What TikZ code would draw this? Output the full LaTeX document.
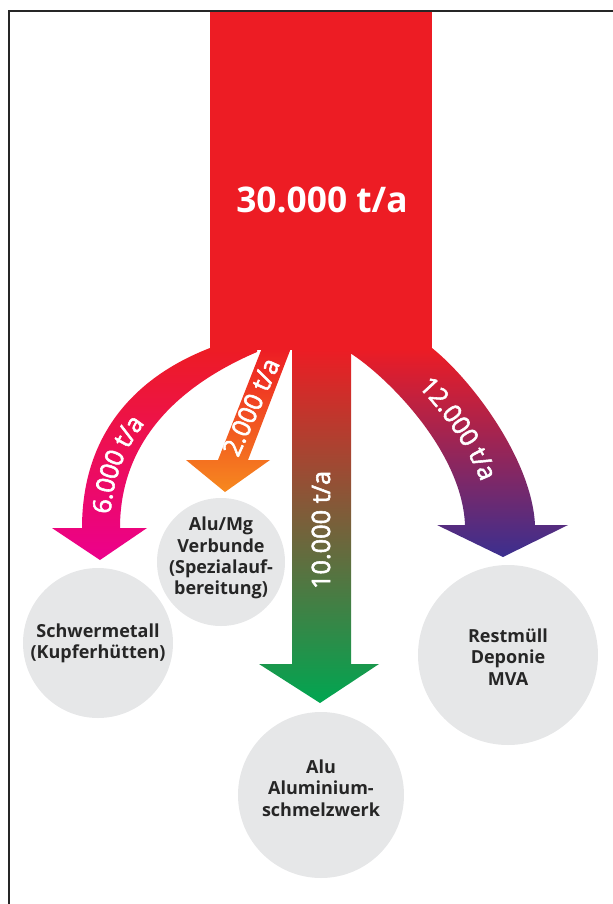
\documentclass[tikz,border=0pt]{standalone}
\usepackage{fontspec}
\setmainfont{Open Sans}
\newfontfamily\labelfont{Open Sans}[FakeBold=2.2]
\usetikzlibrary{decorations.text}

\definecolor{flowred}{HTML}{ED1C24}
\definecolor{flowmagenta}{HTML}{EC008C}
\definecolor{floworange}{HTML}{F6891F}
\definecolor{flowolive}{HTML}{A0783A}
\definecolor{flowgreen}{HTML}{00A651}
\definecolor{flowplum}{HTML}{AA2655}
\definecolor{flowpurple}{HTML}{3B2F8F}
\definecolor{discgray}{HTML}{E6E7E8}
\definecolor{disctext}{HTML}{262626}

\tikzset{
  disc/.style={circle, fill=discgray, inner sep=0pt},
  disclabel/.style={align=center, text=disctext, font=\fontsize{13.5}{16}\selectfont\bfseries},
  flowlabel/.style={text=white, font=\labelfont\fontsize{19}{22}\selectfont},
  curvelabel/.style={decorate, decoration={text along path, text color=white,
      raise=-6.8pt, text align={align=left, left indent=#1}}},
}

\begin{document}
\begin{tikzpicture}[x=0.75pt, y=-0.75pt]
        \useasboundingbox (0,0) rectangle (613,904);

        % targets
        \node[disc, minimum size=112.5pt] (schwer) at (98,643) {};
        \node[disc, minimum size=96pt] (alumg) at (221,562) {};
        \node[disc, minimum size=124.5pt] (alu) at (321,795) {};
        \node[disc, minimum size=135pt] (rest) at (508,655) {};

        % 12.000 t/a
        \shade[top color=flowred, middle color=flowplum, bottom color=flowpurple]
            (432,348) .. controls (472,380) and (532,460) .. (535,525)
            -- (568,525) -- (503,557) -- (437,525) -- (465,525)
            .. controls (462,450) and (385,375) .. (350,353) -- (350,348) -- cycle;
        % 6.000 t/a
        \shade[top color=flowred, bottom color=flowmagenta]
            (210,348) .. controls (140,375) and (82,430) .. (82,528)
            -- (52,528) -- (100,560) -- (147,528) -- (120,528)
            .. controls (120,440) and (180,385) .. (257,352) -- (257,348) -- cycle;
        % 2.000 t/a
        \shade[top color=flowred, bottom color=floworange]
            (262,348) -- (291,348) -- (248,460) -- (270,460) -- (225,492)
            -- (186,460) -- (218,460) -- cycle;
        % 10.000 t/a
        \shade[top color=flowred, middle color=flowolive, bottom color=flowgreen]
            (292,348) -- (351,348) -- (351,664) -- (379,664) -- (320,703)
            -- (259,664) -- (292,664) -- cycle;

        \fill[flowred] (210,11) rectangle (432,350);
        \draw[line width=1.4pt, black!85] (9,904) -- (9,11) -- (613,11);

        \node[text=white, font=\fontsize{26.5}{30}\selectfont\bfseries] (total) at (322,200) {30.000 t/a};
        \path[curvelabel=11pt, decoration={text={|\labelfont\fontsize{19}{22}\selectfont|6.000 t/a}}]
            (101,528) .. controls (101,435) and (160,380) .. (233.5,350);
        \node[flowlabel, rotate=66] (lab2) at (251,407) {2.000 t/a};
        \node[flowlabel, rotate=90] (lab10) at (321,530) {10.000 t/a};
        \path[curvelabel=34pt, decoration={text={|\labelfont\fontsize{19}{22}\selectfont|12.000 t/a}}]
            (391,350.5) .. controls (428.5,377.5) and (497,455) .. (500,525);

        \node[disclabel] (schwertxt) at (schwer) {Schwermetall\\(Kupferhütten)};
        \node[disclabel] (alumgtxt) at (221,558) {Alu/Mg\\Verbunde\\(Spezialauf-\\bereitung)};
        \node[disclabel] (alutxt) at (321,788) {Alu\\Aluminium-\\schmelzwerk};
        \node[disclabel] (resttxt) at (508,657) {Restmüll\\Deponie\\MVA};
\end{tikzpicture}
\end{document}
